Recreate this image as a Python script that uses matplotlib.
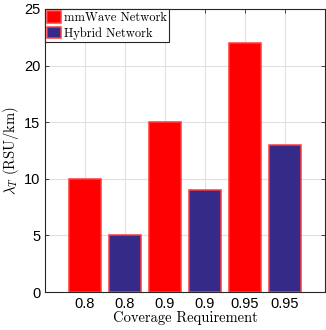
import matplotlib.pyplot as plt

# data
tick_labels = ["0.8", "0.8", "0.9", "0.9", "0.95", "0.95"]
values = [10, 5, 15, 9, 22, 13]
networks = ["mmWave", "Hybrid", "mmWave", "Hybrid", "mmWave", "Hybrid"]

colors = {"mmWave": "#ff0000", "Hybrid": "#352a87"}
labels = {"mmWave": "mmWave Network", "Hybrid": "Hybrid Network"}

plt.rcParams["mathtext.fontset"] = "cm"
plt.rcParams["font.family"] = "Liberation Sans"

fig = plt.figure(figsize=(3.26, 3.30), dpi=100)
ax = fig.add_axes([0.138, 0.115, 0.859, 0.858])

x = list(range(1, len(values) + 1))
seen = set()
for xi, v, net in zip(x, values, networks):
    lab = labels[net] if net not in seen else None
    seen.add(net)
    ax.bar(xi, v, width=0.8, color=colors[net], edgecolor="#ff3a3a",
           linewidth=1.1, label=lab, zorder=3)

ax.set_xlim(0, 7)
ax.set_ylim(0, 25)
ax.set_xticks(x)
ax.set_xticklabels(tick_labels)
ax.set_yticks([0, 5, 10, 15, 20, 25])
ax.tick_params(direction="in", top=True, right=True, labelsize=10.5,
               length=3, width=0.6, colors="#262626")
for lbl in ax.get_xticklabels() + ax.get_yticklabels():
    lbl.set_color("black")
for s in ax.spines.values():
    s.set_linewidth(0.8)
    s.set_color("#262626")
ax.grid(True, color="#e0e0e0", linewidth=0.8, zorder=0)
ax.set_axisbelow(True)

ax.set_xlabel("Coverage Requirement", family="cmr10", fontsize=10.5, labelpad=0)
ax.set_ylabel(r"$\lambda_T$ (RSU/km)", family="cmr10", fontsize=10.5, labelpad=2)

leg = ax.legend(loc="upper left", prop={"family": "cmr10", "size": 9},
                fancybox=False, edgecolor="#262626", framealpha=1,
                borderaxespad=0, borderpad=0.2, handlelength=1.1,
                handleheight=1.0, handletextpad=0.2, labelspacing=0.2)
leg.get_frame().set_linewidth(0.8)

fig.savefig("out.png", dpi=100)
